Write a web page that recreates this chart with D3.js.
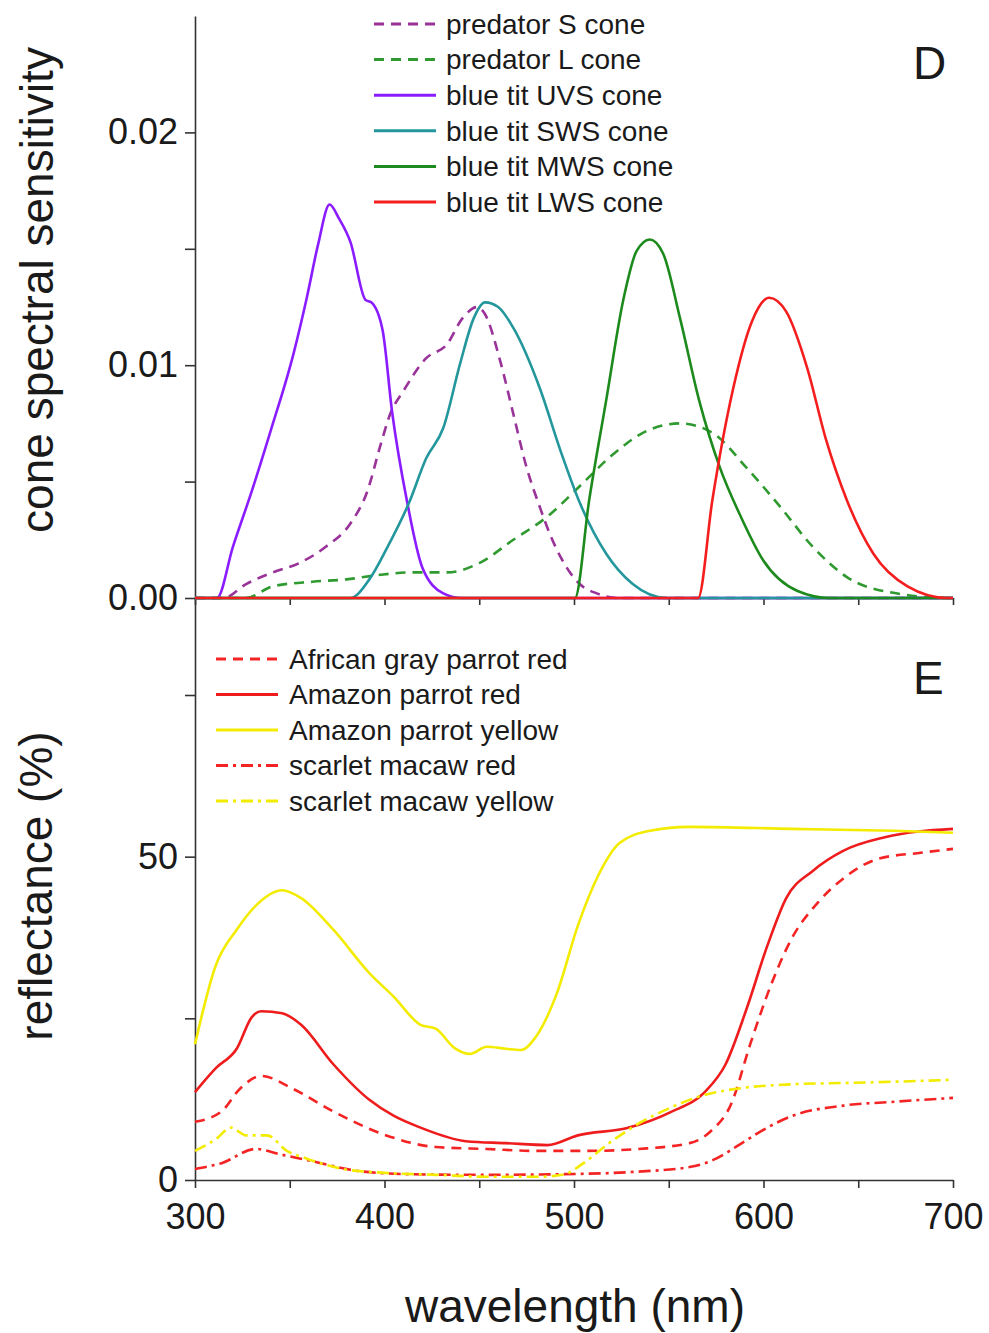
<!DOCTYPE html>
<html>
<head>
<meta charset="utf-8">
<script src="https://cdn.jsdelivr.net/npm/d3@7"></script>
<style>
    body { margin: 0; background: #fff; }
    svg text { font-family: "Liberation Sans", Arial, sans-serif; fill: #1a1a1a; }
</style>
</head>
<body>
<div id="chart"></div>
<script>
// Panel D: cone spectral sensitivities, [wavelength nm, sensitivity]
var predatorS = [[300, 0], [315, 0], [327, 0.0006], [341, 0.0011], [355, 0.0015], [369, 0.0022], [382, 0.0032], [391, 0.0046], [398, 0.0066], [403, 0.0079], [410, 0.0089], [422, 0.0103], [433, 0.0109], [441, 0.0120], [449, 0.0125], [453, 0.0122], [461, 0.0102], [468, 0.0079], [475, 0.0056], [482, 0.0039], [487, 0.0028], [494, 0.0016], [503, 0.0006], [512, 0.0002], [523, 0], [700, 0]];
var predatorL = [[300, 0], [327, 0], [341, 0.0005], [362, 0.0007], [380, 0.0008], [398, 0.0010], [415, 0.0011], [433, 0.0011], [450, 0.0015], [468, 0.0025], [486, 0.0035], [503, 0.0048], [521, 0.0062], [539, 0.0072], [556, 0.0075], [573, 0.0071], [591, 0.0056], [609, 0.0039], [626, 0.0022], [644, 0.0009], [670, 0.0002], [697, 0], [700, 0]];
var uvsCone = [[300, 0], [311.6, 0], [320, 0.0022], [330, 0.0046], [340, 0.0072], [352, 0.0105], [359, 0.0129], [365, 0.0152], [371, 0.0169], [376, 0.0163], [382, 0.0153], [390, 0.0128], [393, 0.0127], [399, 0.0115], [404, 0.0080], [412, 0.0041], [420, 0.0013], [431, 0.0002], [441, 0], [700, 0]];
var swsCone = [[300, 0], [382, 0], [392, 0.0008], [401, 0.0021], [413, 0.0041], [422, 0.0060], [431, 0.0073], [440, 0.0101], [447, 0.0120], [453, 0.0127], [460, 0.0125], [468, 0.0116], [482, 0.0090], [493, 0.0063], [503, 0.0041], [517, 0.0019], [531, 0.0006], [549, 0], [700, 0]];
var mwsCone = [[300, 0], [500.5, 0], [508, 0.0042], [517, 0.0085], [526, 0.0128], [533, 0.0149], [540, 0.0154], [547, 0.0148], [556, 0.0120], [566, 0.0085], [577, 0.0056], [588, 0.0035], [600, 0.0016], [618, 0.0003], [635, 0], [700, 0]];
var lwsCone = [[300, 0], [565.5, 0], [573, 0.0042], [584, 0.0090], [594, 0.0119], [603, 0.0129], [612, 0.0123], [623, 0.0099], [633, 0.0068], [644, 0.0042], [658, 0.0019], [676, 0.0005], [697, 0], [700, 0]];

// Panel E: plumage reflectance, [wavelength nm, reflectance %]
var africanGrayRed = [[300, 9.0], [314, 10.6], [324, 14.2], [335, 16.1], [351, 14.2], [373, 10.6], [400, 7.0], [427, 5.1], [454, 4.8], [480, 4.5], [507, 4.5], [534, 4.8], [561, 5.7], [572, 7.5], [583, 11.8], [593, 21.0], [604, 30.2], [615, 37.4], [629, 43.0], [642, 46.6], [661, 49.7], [683, 50.6], [700, 51.2]];
var amazonRed = [[300, 13.6], [311, 17.3], [322, 20.3], [330, 25.2], [335, 26.1], [346, 25.8], [356, 24.0], [373, 17.9], [392, 12.4], [405, 9.9], [419, 8.1], [443, 6.0], [464, 5.7], [486, 5.4], [502, 6.9], [529, 8.1], [551, 10.5], [569, 13.6], [580, 17.9], [591, 26.4], [602, 36.2], [612, 43.6], [626, 47.8], [642, 50.9], [664, 53.0], [700, 54.3]];
var amazonYellow = [[300, 21.0], [311, 33.2], [322, 38.7], [332, 42.4], [346, 44.8], [356, 43.6], [373, 38.7], [392, 32.0], [405, 28.3], [419, 24.0], [427, 23.4], [437, 20.4], [445, 19.5], [454, 20.6], [464, 20.3], [472, 20.1], [480, 22.2], [491, 28.9], [502, 39.3], [513, 47.2], [524, 52.1], [540, 54.0], [561, 54.6], [615, 54.3], [669, 54.0], [700, 53.7]];
var scarletRed = [[300, 1.7], [314, 2.6], [332, 4.8], [346, 3.9], [362, 2.9], [386, 1.4], [413, 0.9], [454, 0.8], [494, 0.9], [534, 1.3], [561, 2.0], [575, 3.3], [588, 5.6], [602, 8.1], [615, 9.9], [642, 11.5], [669, 12.1], [700, 12.7]];
var scarletYellow = [[300, 4.5], [311, 6.3], [319, 8.1], [327, 6.9], [338, 6.9], [348.5, 4.5], [359, 3.3], [378, 1.7], [400, 1.1], [427, 0.8], [454, 0.5], [480, 0.5], [494, 0.8], [505, 2.6], [518, 5.6], [534, 8.7], [551, 11.2], [567, 13.0], [588, 14.2], [615, 14.8], [642, 15.0], [669, 15.2], [700, 15.5]];

var coneLabels = ["predator S cone", "predator L cone", "blue tit UVS cone", "blue tit SWS cone", "blue tit MWS cone", "blue tit LWS cone"];
var plumageLabels = ["African gray parrot red", "Amazon parrot red", "Amazon parrot yellow", "scarlet macaw red", "scarlet macaw yellow"];
var xTicks = [300, 350, 400, 450, 500, 550, 600, 650, 700];
var coneTicks = [0, 0.005, 0.01, 0.015, 0.02];
var reflTicks = [0, 25, 50, 75];

var DASH = "10,7";
var DASHDOT = "12,5,3,5";

var coneSeries = [
    { data: predatorS, color: "#993399", dash: DASH },
    { data: predatorL, color: "#2f9a2f", dash: DASH },
    { data: uvsCone, color: "#8a1cff", dash: null },
    { data: swsCone, color: "#23979c", dash: null },
    { data: mwsCone, color: "#1d8a1d", dash: null },
    { data: lwsCone, color: "#f41e1e", dash: null }
];
var plumageSeries = [
    { data: africanGrayRed, color: "#f42424", dash: DASH },
    { data: amazonRed, color: "#ee1c1c", dash: null },
    { data: amazonYellow, color: "#f4ec00", dash: null },
    { data: scarletRed, color: "#f42424", dash: DASHDOT },
    { data: scarletYellow, color: "#f4ec00", dash: DASHDOT }
];

var width = 989, height = 1333;
var svg = d3.select("#chart")
    .append("svg")
    .attr("width", width)
    .attr("height", height);

var x = d3.scaleLinear().domain([300, 700]).range([195, 953]);
var yTop = d3.scaleLinear().domain([0, 0.025]).range([598, 16]);
var yBot = d3.scaleLinear().domain([0, 90]).range([1180, 598]);

function styleAxis(g) {
    g.selectAll("path.domain").attr("stroke", "#333").attr("stroke-width", 1.6);
    g.selectAll(".tick line").attr("stroke", "#333").attr("stroke-width", 1.6);
    g.selectAll(".tick text")
        .attr("fill", "#1a1a1a")
        .style("font-family", "'Liberation Sans', Arial, sans-serif")
        .style("font-size", "36px");
}

// panel D axes
svg.append("g")
    .attr("transform", "translate(195,0)")
    .call(d3.axisLeft(yTop)
        .tickValues(coneTicks)
        .tickSize(10)
        .tickSizeOuter(0)
        .tickPadding(7)
        .tickFormat(d => (Math.round(d * 1000) % 10 === 0) ? d3.format(".2f")(d) : ""))
    .call(styleAxis);

svg.append("g")
    .attr("transform", "translate(0,598)")
    .call(d3.axisBottom(x)
        .tickValues(xTicks)
        .tickSize(7)
        .tickSizeOuter(0)
        .tickFormat(""))
    .call(styleAxis);

// panel E axes
svg.append("g")
    .attr("transform", "translate(195,0)")
    .call(d3.axisLeft(yBot)
        .tickValues(reflTicks)
        .tickSize(10)
        .tickSizeOuter(0)
        .tickPadding(7)
        .tickFormat(d => d % 50 === 0 ? d : ""))
    .call(styleAxis);

svg.append("g")
    .attr("transform", "translate(0,1180)")
    .call(d3.axisBottom(x)
        .tickValues(xTicks)
        .tickSize(8)
        .tickSizeOuter(0)
        .tickPadding(15)
        .tickFormat(d => d % 100 === 0 ? d : ""))
    .call(styleAxis);

function drawPanel(series, yScale) {
    var line = d3.line()
        .x(d => x(d[0]))
        .y(d => yScale(d[1]))
        .curve(d3.curveMonotoneX);
    svg.append("g")
        .selectAll("path")
        .data(series)
        .enter()
        .append("path")
        .attr("d", d => line(d.data))
        .attr("fill", "none")
        .attr("stroke", d => d.color)
        .attr("stroke-width", 2.6)
        .attr("stroke-dasharray", d => d.dash)
        .attr("stroke-linejoin", "round");
}

drawPanel(coneSeries, yTop);
drawPanel(plumageSeries, yBot);

function drawLegend(series, labels, lineX0, lineX1, textX, rowY0, rowStep) {
    var g = svg.append("g");
    series.forEach((s, i) => {
        var yy = rowY0 + i * rowStep;
        g.append("line")
            .attr("x1", lineX0).attr("x2", lineX1)
            .attr("y1", yy).attr("y2", yy)
            .attr("stroke", s.color)
            .attr("stroke-width", 3)
            .attr("stroke-dasharray", s.dash);
        g.append("text")
            .attr("x", textX)
            .attr("y", yy)
            .attr("dy", "0.35em")
            .style("font-size", "28px")
            .text(labels[i]);
    });
}

drawLegend(coneSeries, coneLabels, 374, 436, 446, 24, 35.6);
drawLegend(plumageSeries, plumageLabels, 216, 278, 289, 659, 35.5);

// panel letters
svg.append("text").attr("x", 913).attr("y", 79).style("font-size", "46px").text("D");
svg.append("text").attr("x", 913).attr("y", 694).style("font-size", "46px").text("E");

// axis titles
svg.append("text")
    .attr("transform", "translate(53,290)rotate(-90)")
    .style("text-anchor", "middle")
    .style("font-size", "46px")
    .text("cone spectral sensitivity");
svg.append("text")
    .attr("transform", "translate(52,886)rotate(-90)")
    .style("text-anchor", "middle")
    .style("font-size", "46px")
    .text("reflectance (%)");
svg.append("text")
    .attr("x", 575)
    .attr("y", 1322)
    .style("text-anchor", "middle")
    .style("font-size", "46px")
    .text("wavelength (nm)");
</script>
</body>
</html>
